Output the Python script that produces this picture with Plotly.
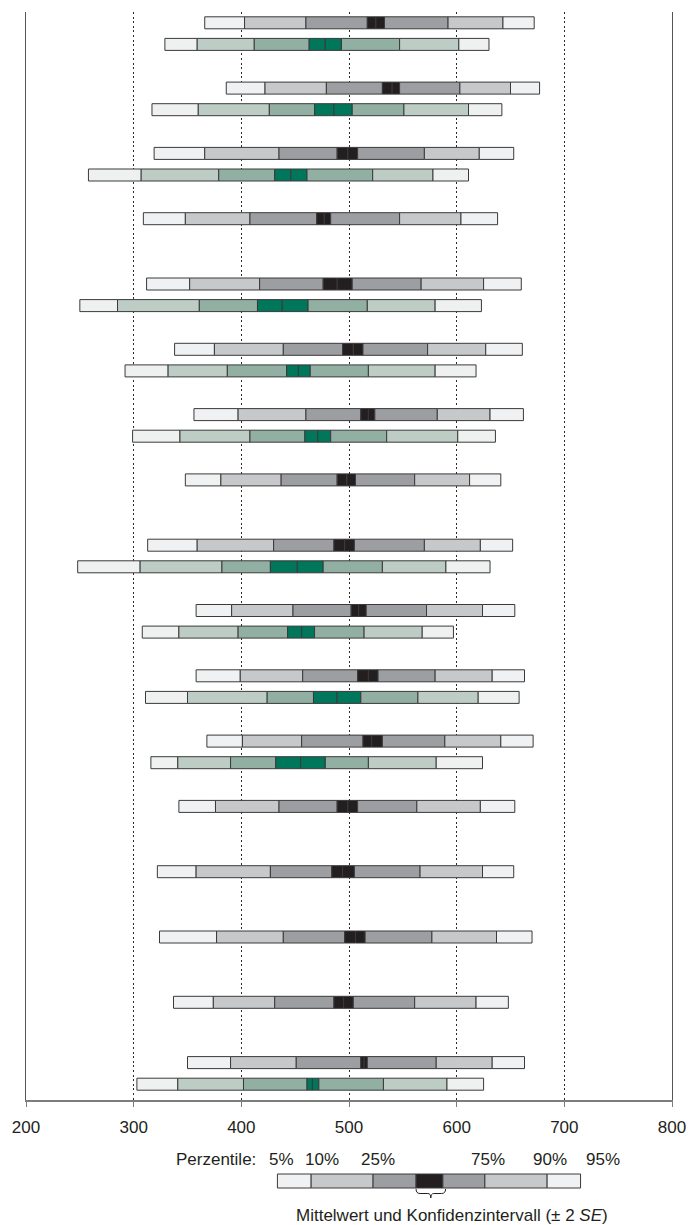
import plotly.graph_objects as go

# Percentile / mean statistics per group (score scale)
# order of each group: P5, P10, P25, CI low, mean, CI high, P75, P90, P95
gray_p5 = [366, 386, 319, 309, 312, 338, 356, 348, 313, 358, 358, 368, 342, 322, 324, 337, 350]
gray_p10 = [403, 422, 366, 348, 352, 375, 397, 381, 359, 391, 399, 401, 376, 358, 377, 374, 390]
gray_p25 = [460, 479, 435, 408, 417, 439, 460, 437, 430, 448, 457, 456, 435, 427, 439, 431, 451]
gray_ci_lo = [517, 531, 489, 470, 476, 494, 511, 489, 486, 502, 508, 513, 489, 484, 496, 486, 511]
gray_mean = [525, 540, 499, 477, 489, 504, 518, 498, 496, 509, 518, 521, 499, 494, 506, 495, 514]
gray_ci_hi = [533, 547, 508, 483, 503, 513, 524, 506, 505, 516, 527, 531, 508, 505, 515, 504, 517]
gray_p75 = [592, 603, 570, 547, 567, 573, 582, 561, 570, 572, 580, 589, 563, 566, 577, 561, 581]
gray_p90 = [643, 650, 621, 604, 625, 627, 631, 612, 622, 624, 633, 641, 622, 624, 637, 618, 633]
gray_p95 = [672, 677, 653, 638, 660, 661, 662, 641, 652, 654, 663, 671, 654, 653, 670, 648, 663]

# groups (1-based) that also carry a second, green series
green_groups = [1, 2, 3, 5, 6, 7, 9, 10, 11, 12, 17]
green_p5 = [329, 317, 258, 250, 292, 299, 248, 308, 311, 316, 303]
green_p10 = [359, 360, 307, 285, 332, 343, 306, 342, 350, 341, 341]
green_p25 = [412, 426, 379, 361, 387, 408, 382, 397, 424, 390, 402]
green_ci_lo = [463, 468, 431, 415, 442, 459, 427, 443, 467, 432, 461]
green_mean = [478, 486, 446, 438, 453, 471, 452, 456, 489, 455, 466]
green_ci_hi = [493, 503, 461, 462, 464, 483, 476, 468, 511, 478, 472]
green_p75 = [547, 551, 522, 517, 518, 535, 531, 514, 564, 518, 532]
green_p90 = [602, 611, 578, 580, 580, 601, 590, 568, 620, 581, 591]
green_p95 = [630, 642, 611, 623, 618, 636, 631, 597, 658, 624, 625]

x_ticks = [200, 300, 400, 500, 600, 700, 800]
legend_percentiles = ["5%", "10%", "25%", "75%", "90%", "95%"]

# ---- layout constants (pixels) ----
W, H = 698, 1225
ML, MR, MT, MB = 25, 16, 12, 125
PLOT_H = H - MT - MB
ROW_GAP = 65.3        # distance between groups
FIRST_ROW = 10.8      # centre of the first grey bar below the plot top
PAIR_GAP = 21.6       # grey bar -> green bar offset
BAR_H = 12

GRAY_COLS = ["#f0f1f2", "#c7c8ca", "#9d9ea2", "#231f20", "#231f20", "#9d9ea2", "#c7c8ca", "#f0f1f2"]
GREEN_COLS = ["#eef1f0", "#bdcdc6", "#92afa3", "#00765a", "#00765a", "#92afa3", "#bdcdc6", "#eef1f0"]
EDGE = "#3a3a3a"
TXT = "#231f20"
FONT = "Liberation Sans"

n = len(gray_p5)
y_gray = [FIRST_ROW + i * ROW_GAP for i in range(n)]
y_gray[-1] -= 5  # last group sits a little closer to the axis
y_green = [y_gray[g - 1] + PAIR_GAP for g in green_groups]

gray_bounds = [gray_p5, gray_p10, gray_p25, gray_ci_lo, gray_mean, gray_ci_hi, gray_p75, gray_p90, gray_p95]
green_bounds = [green_p5, green_p10, green_p25, green_ci_lo, green_mean, green_ci_hi, green_p75, green_p90, green_p95]

fig = go.Figure()


def add_series(bounds, ys, colors):
    for k in range(len(bounds) - 1):
        lo, hi = bounds[k], bounds[k + 1]
        fig.add_trace(go.Bar(
            orientation="h",
            y=ys,
            base=lo,
            x=[b - a for a, b in zip(lo, hi)],
            width=BAR_H,
            marker=dict(color=colors[k], line=dict(color=EDGE, width=1)),
            showlegend=False,
            hoverinfo="skip",
        ))


add_series(gray_bounds, y_gray, GRAY_COLS)
add_series(green_bounds, y_green, GREEN_COLS)

fig.update_layout(
    width=W, height=H,
    margin=dict(l=ML, r=MR, t=MT, b=MB),
    paper_bgcolor="white", plot_bgcolor="white",
    barmode="overlay",
    font=dict(family=FONT, size=17, color=TXT),
    xaxis=dict(
        range=[200, 800], tickvals=x_ticks, ticktext=[str(v) for v in x_ticks],
        showline=True, linecolor="#7d7d7d", linewidth=1.5,
        ticks="outside", ticklen=5, tickcolor="#7d7d7d", tickwidth=1.3,
        showgrid=True, gridcolor="#2a2a2a", gridwidth=1.4, griddash="2px,2.6px",
        zeroline=False, ticklabelstandoff=6,
        tickfont=dict(family=FONT, size=17, color=TXT),
    ),
    yaxis=dict(
        range=[PLOT_H, 0], showgrid=False, zeroline=False, showticklabels=False,
        showline=True, mirror=True, linecolor="#555555", linewidth=1.3, ticks="",
    ),
)


def fx(px):
    return (px - ML) / (W - ML - MR)


def fy(py):
    return (H - MB - py) / PLOT_H


# schematic legend bar below the axis
leg_edges = [280.7, 315, 378, 421.7, 449, 491.7, 555, 589]
leg_cols = ["#f0f1f2", "#c7c8ca", "#9d9ea2", "#231f20", "#9d9ea2", "#c7c8ca", "#f0f1f2"]
leg_top, leg_bot = 1174, 1188
for k in range(len(leg_edges) - 1):
    fig.add_shape(type="rect", xref="paper", yref="paper",
                  x0=fx(leg_edges[k]), x1=fx(leg_edges[k + 1]),
                  y0=fy(leg_bot), y1=fy(leg_top),
                  fillcolor=leg_cols[k], line=dict(color=EDGE, width=1))

# curly brace under the mean/CI block
bx0, bx1, bmid = 421.7, 451.7, 436.7
by0, by1, by2 = 1189, 1193.5, 1198
path = (f"M {fx(bx0)},{fy(by0)} Q {fx(bx0)},{fy(by1)} {fx(bx0 + 4)},{fy(by1)} "
        f"L {fx(bmid - 3)},{fy(by1)} Q {fx(bmid)},{fy(by1)} {fx(bmid)},{fy(by2)} "
        f"Q {fx(bmid)},{fy(by1)} {fx(bmid + 3)},{fy(by1)} "
        f"L {fx(bx1 - 4)},{fy(by1)} Q {fx(bx1)},{fy(by1)} {fx(bx1)},{fy(by0)}")
fig.add_shape(type="path", xref="paper", yref="paper", path=path,
              line=dict(color=TXT, width=1))

fig.add_annotation(xref="paper", yref="paper", x=fx(175.7), y=fy(1159),
                   text="Perzentile:", showarrow=False, xanchor="left", yanchor="middle",
                   font=dict(family=FONT, size=17, color=TXT))
for lab, cx in zip(legend_percentiles, [284.5, 326, 383, 495, 558, 612]):
    fig.add_annotation(xref="paper", yref="paper", x=fx(cx), y=fy(1159),
                       text=lab, showarrow=False, xanchor="center", yanchor="middle",
                       font=dict(family=FONT, size=17, color=TXT))
fig.add_annotation(xref="paper", yref="paper", x=fx(458), y=fy(1215),
                   text="Mittelwert und Konfidenzintervall (± 2 <i>SE</i>)",
                   showarrow=False, xanchor="center", yanchor="middle",
                   font=dict(family=FONT, size=17, color=TXT))

fig.write_html("out.html")
